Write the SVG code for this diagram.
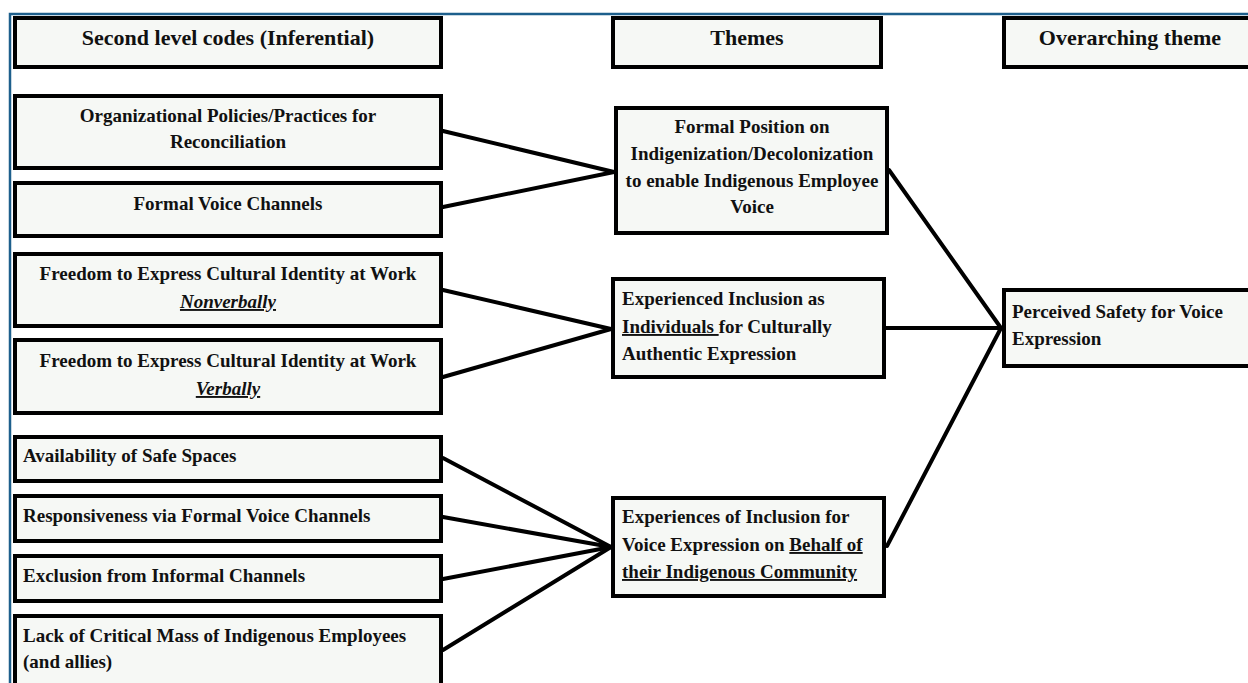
<svg xmlns="http://www.w3.org/2000/svg" width="1248" height="683" viewBox="0 0 1248 683">
  <style>
    .box { fill: #f6f8f5; stroke: #000; stroke-width: 4; }
    .hd { font-family: "Liberation Serif", "Times New Roman", serif; font-weight: bold; font-size: 22px; fill: #111; text-anchor: middle; }
    .t { font-family: "Liberation Serif", "Times New Roman", serif; font-weight: bold; font-size: 19px; fill: #111; }
    .c { text-anchor: middle; }
    .u { text-decoration: underline; }
    .link { stroke: #000; stroke-width: 4; fill: none; stroke-linecap: round; }
    .frame { stroke: #1d5f8c; stroke-width: 2.5; fill: none; }
  </style>
  <rect width="1248" height="683" fill="#ffffff"/>
  <!-- page frame -->
  <path class="frame" d="M10,683 V14 H1248"/>

  <!-- column headers -->
  <g id="header-codes">
    <rect class="box" x="15" y="18" width="426" height="49"/>
    <text class="hd" x="228" y="45">Second level codes (Inferential)</text>
  </g>
  <g id="header-themes">
    <rect class="box" x="613" y="18" width="268" height="49"/>
    <text class="hd" x="747" y="45">Themes</text>
  </g>
  <g id="header-overarching">
    <rect class="box" x="1004" y="18" width="260" height="49"/>
    <text class="hd" x="1130" y="45">Overarching theme</text>
  </g>

  <!-- connectors -->
  <g id="connectors">
    <line class="link" x1="443" y1="131" x2="614" y2="172"/>
    <line class="link" x1="443" y1="207" x2="614" y2="172"/>
    <line class="link" x1="443" y1="290" x2="611" y2="329"/>
    <line class="link" x1="443" y1="377" x2="611" y2="329"/>
    <line class="link" x1="443" y1="458" x2="611" y2="547"/>
    <line class="link" x1="443" y1="517" x2="611" y2="547"/>
    <line class="link" x1="443" y1="579" x2="611" y2="547"/>
    <line class="link" x1="443" y1="650" x2="611" y2="547"/>
    <line class="link" x1="889" y1="170" x2="1001" y2="328"/>
    <line class="link" x1="886" y1="328" x2="1001" y2="328"/>
    <line class="link" x1="887" y1="546" x2="1001" y2="328"/>
  </g>

  <!-- second level codes -->
  <g id="code-org-policies">
    <rect class="box" x="15" y="96" width="426" height="72"/>
    <text class="t c" x="228" y="122">Organizational Policies/Practices for</text>
    <text class="t c" x="228" y="148">Reconciliation</text>
  </g>
  <g id="code-formal-voice">
    <rect class="box" x="15" y="183" width="426" height="53"/>
    <text class="t c" x="228" y="210">Formal Voice Channels</text>
  </g>
  <g id="code-nonverbal">
    <rect class="box" x="15" y="254" width="426" height="72"/>
    <text class="t c" x="228" y="280">Freedom to Express Cultural Identity at Work</text>
    <text class="t c u" x="228" y="308" font-style="italic">Nonverbally</text>
  </g>
  <g id="code-verbal">
    <rect class="box" x="15" y="340" width="426" height="73"/>
    <text class="t c" x="228" y="367">Freedom to Express Cultural Identity at Work</text>
    <text class="t c u" x="228" y="395" font-style="italic">Verbally</text>
  </g>
  <g id="code-safe-spaces">
    <rect class="box" x="15" y="437" width="426" height="44"/>
    <text class="t" x="23" y="462">Availability of Safe Spaces</text>
  </g>
  <g id="code-responsiveness">
    <rect class="box" x="15" y="496" width="426" height="45"/>
    <text class="t" x="23" y="522">Responsiveness via Formal Voice Channels</text>
  </g>
  <g id="code-exclusion">
    <rect class="box" x="15" y="556" width="426" height="45"/>
    <text class="t" x="23" y="582">Exclusion from Informal Channels</text>
  </g>
  <g id="code-critical-mass">
    <rect class="box" x="15" y="616" width="426" height="90"/>
    <text class="t" x="23" y="642">Lack of Critical Mass of Indigenous Employees</text>
    <text class="t" x="23" y="668">(and allies)</text>
  </g>

  <!-- themes -->
  <g id="theme-formal-position">
    <rect class="box" x="616" y="108" width="271" height="125"/>
    <text class="t c" x="752" y="133">Formal Position on</text>
    <text class="t c" x="752" y="160">Indigenization/Decolonization</text>
    <text class="t c" x="752" y="187">to enable Indigenous Employee</text>
    <text class="t c" x="752" y="213">Voice</text>
  </g>
  <g id="theme-individuals">
    <rect class="box" x="613" y="279" width="271" height="98"/>
    <text class="t" x="622" y="305">Experienced Inclusion as</text>
    <text class="t" x="622" y="333"><tspan class="u">Individuals </tspan>for Culturally</text>
    <text class="t" x="622" y="360">Authentic Expression</text>
  </g>
  <g id="theme-community">
    <rect class="box" x="613" y="498" width="271" height="98"/>
    <text class="t" x="622" y="523">Experiences of Inclusion for</text>
    <text class="t" x="622" y="551">Voice Expression on <tspan class="u">Behalf of</tspan></text>
    <text class="t u" x="622" y="578">their Indigenous Community</text>
  </g>

  <!-- overarching theme -->
  <g id="overarching-safety">
    <rect class="box" x="1004" y="290" width="260" height="76"/>
    <text class="t" x="1012" y="318">Perceived Safety for Voice</text>
    <text class="t" x="1012" y="345">Expression</text>
  </g>
</svg>
